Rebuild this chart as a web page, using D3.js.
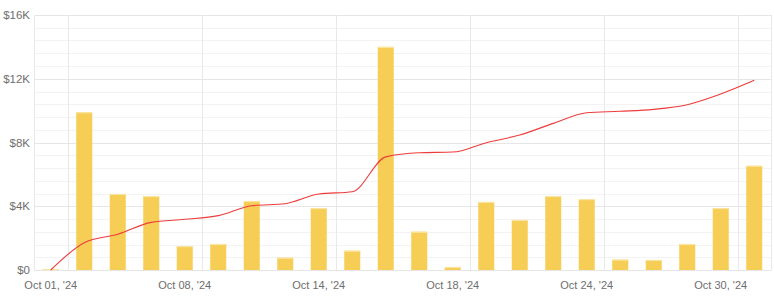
<!DOCTYPE html>
<html>
<head>
<meta charset="utf-8">
<script src="https://cdn.jsdelivr.net/npm/d3@7"></script>
<style>
  body { margin: 0; background: #fff; }
  text { font-family: "Liberation Sans", Arial, sans-serif; }
</style>
</head>
<body>
<div id="chart"></div>
<script>
// categories (trading days) and values
var dates = ["Oct 01", "Oct 02", "Oct 03", "Oct 04", "Oct 08", "Oct 09", "Oct 10", "Oct 11",
  "Oct 14", "Oct 15", "Oct 16", "Oct 17", "Oct 18", "Oct 21", "Oct 22", "Oct 23",
  "Oct 24", "Oct 25", "Oct 28", "Oct 29", "Oct 30", "Oct 31"];
var barValues = [60, 9900, 4770, 4640, 1500, 1630, 4330, 770, 3890, 1210, 14000, 2400,
  190, 4270, 3140, 4640, 4450, 650, 630, 1630, 3890, 6540];
var lineValues = [0, 1710, 2240, 2990, 3180, 3410, 4030, 4160, 4770, 4910, 7100, 7360,
  7400, 7990, 8470, 9200, 9870, 9960, 10080, 10370, 11040, 11900];
var yTicks = [0, 4000, 8000, 12000, 16000];
var labelEvery = 4;

var svgWidth = 774;
var svgHeight = 306;
var margin = { top: 15, right: 3, bottom: 36, left: 34 };
var width = svgWidth - margin.left - margin.right;
var height = svgHeight - margin.top - margin.bottom;

var svg = d3.select("#chart")
  .append("svg")
  .attr("width", svgWidth)
  .attr("height", svgHeight);

var chartGroup = svg.append("g")
  .attr("transform", `translate(${margin.left}, ${margin.top})`);

var xScale = d3.scaleBand()
  .domain(dates)
  .range([0, width]);

var yScale = d3.scaleLinear()
  .domain([0, 16000])
  .range([height, 0]);

// minor horizontal grid
var minor = d3.range(0, 16001, 800).filter(v => v % 4000 !== 0);
chartGroup.selectAll(".minor")
  .data(minor)
  .enter()
  .append("line")
  .attr("x1", 0)
  .attr("x2", width)
  .attr("y1", d => Math.round(yScale(d)) + 0.5)
  .attr("y2", d => Math.round(yScale(d)) + 0.5)
  .attr("stroke", "#f3f3f3");

// major horizontal grid
chartGroup.selectAll(".major")
  .data(yTicks)
  .enter()
  .append("line")
  .attr("x1", 0)
  .attr("x2", width)
  .attr("y1", d => Math.round(yScale(d)) + 0.5)
  .attr("y2", d => Math.round(yScale(d)) + 0.5)
  .attr("stroke", "#e6e6e6");

// vertical grid: after each labelled category, plus both edges
var vlines = [0, width];
dates.forEach(function (d, i) {
  if (i % labelEvery === 0) vlines.push(xScale(d) + xScale.bandwidth());
});
chartGroup.selectAll(".vgrid")
  .data(vlines)
  .enter()
  .append("line")
  .attr("x1", d => Math.round(d) + 0.5)
  .attr("x2", d => Math.round(d) + 0.5)
  .attr("y1", 0)
  .attr("y2", height)
  .attr("stroke", "#e8e8e8");

// bars
var barW = 16;
chartGroup.selectAll(".bar")
  .data(barValues)
  .enter()
  .append("rect")
  .attr("x", (d, i) => xScale(dates[i]) + xScale.bandwidth() / 2 - barW / 2)
  .attr("y", d => yScale(d))
  .attr("width", barW)
  .attr("height", d => height - yScale(d))
  .attr("fill", "#f6cd55");

chartGroup.selectAll(".bartop")
  .data(barValues)
  .enter()
  .append("line")
  .attr("x1", (d, i) => xScale(dates[i]) + xScale.bandwidth() / 2 - barW / 2)
  .attr("x2", (d, i) => xScale(dates[i]) + xScale.bandwidth() / 2 + barW / 2)
  .attr("y1", d => yScale(d) + 0.5)
  .attr("y2", d => yScale(d) + 0.5)
  .attr("stroke", "#fbe4a2")
  .attr("stroke-width", 1.2);

// line
var line = d3.line()
  .x((d, i) => xScale(dates[i]) + xScale.bandwidth() / 2)
  .y(d => yScale(d))
  .curve(d3.curveMonotoneX);

chartGroup.append("path")
  .datum(lineValues)
  .attr("d", line)
  .attr("fill", "none")
  .attr("stroke", "#ee3b3b")
  .attr("stroke-width", 1.1);

// y axis labels
chartGroup.selectAll(".ylab")
  .data(yTicks)
  .enter()
  .append("text")
  .attr("x", -4)
  .attr("y", d => yScale(d) + 4)
  .attr("text-anchor", "end")
  .style("font-size", "11.5px")
  .style("fill", "#6e6e6e")
  .text(d => d === 0 ? "$0" : "$" + (d / 1000) + "K");

// x axis labels
chartGroup.selectAll(".xlab")
  .data(dates.filter((d, i) => i % labelEvery === 0))
  .enter()
  .append("text")
  .attr("x", d => xScale(d) + xScale.bandwidth() / 2)
  .attr("y", height + 19)
  .attr("text-anchor", "middle")
  .style("font-size", "11px")
  .style("fill", "#6e6e6e")
  .text(d => d + ", '24");
</script>
</body>
</html>
